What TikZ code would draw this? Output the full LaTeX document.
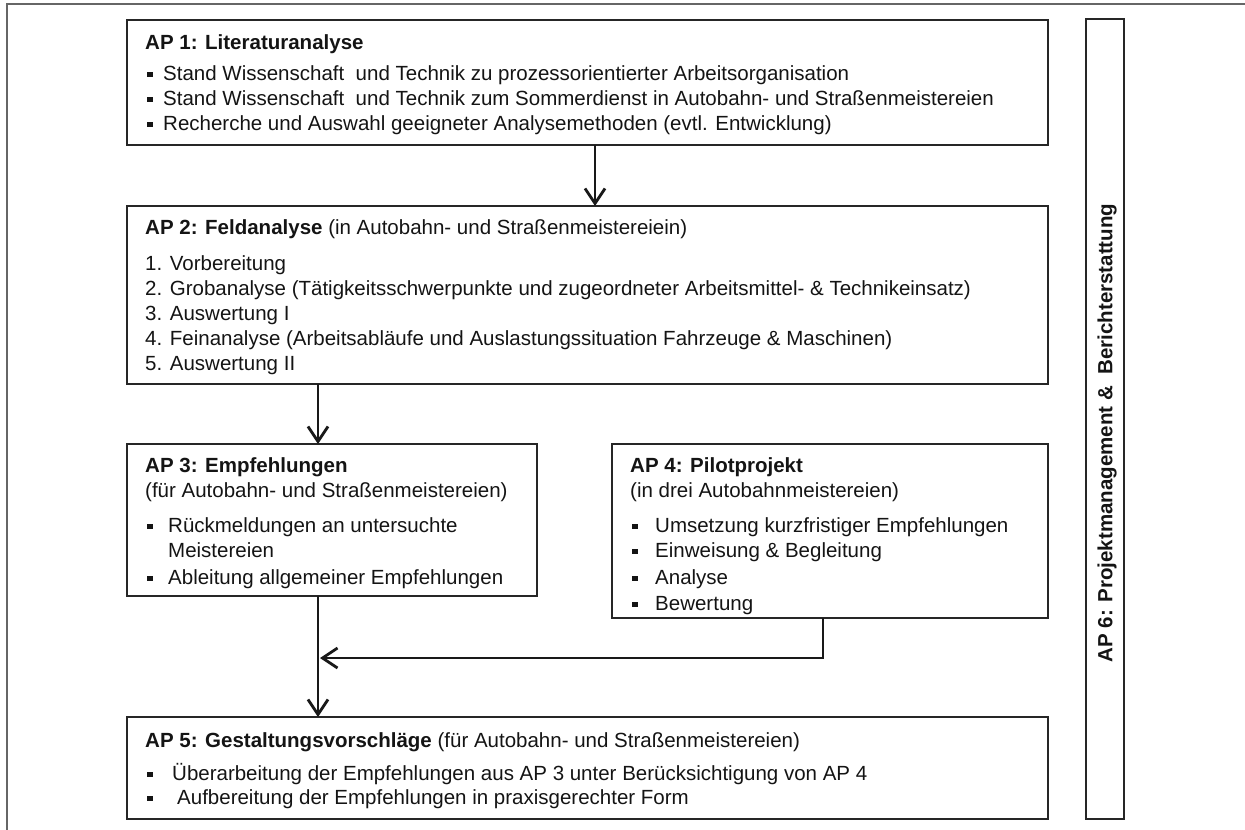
\documentclass[tikz,border=0pt]{standalone}
\usepackage{fontspec}
\setmainfont{Liberation Sans}
\usetikzlibrary{arrows.meta,calc}
\newcommand{\bsq}[1]{\makebox[#1][l]{\rule[2.8pt]{5.5pt}{5.5pt}}}
\begin{document}
\begin{tikzpicture}[x=1pt,y=-1pt,
  box/.style={draw=black!85, line width=1.8pt, anchor=north west, inner sep=0pt, outer sep=0pt},
  txt/.style={anchor=base west, inner sep=0pt, text=black!92, font=\fontsize{20.5}{24.6}\selectfont},
  arr/.style={line width=2.4pt, draw=black!90, -{Straight Barb[length=15pt,width=20pt,line width=2.8pt]}},
  frame/.style={draw=black!60, line width=2.5pt}]
\useasboundingbox (0,0) rectangle (1245,830);
% outer frame
\draw[frame] (7,830) -- (7,4) -- (1245,4);
% boxes
\node[box, minimum width=921pt, minimum height=125pt] (ap1) at (127,20) {};
\node[box, minimum width=921pt, minimum height=178pt] (ap2) at (127,206) {};
\node[box, minimum width=410pt, minimum height=152pt] (ap3) at (127,444) {};
\node[box, minimum width=436pt, minimum height=174pt] (ap4) at (612,444) {};
\node[box, minimum width=921pt, minimum height=102pt] (ap5) at (127,717) {};
\node[box, minimum width=38pt, minimum height=800pt] (ap6) at (1086,19) {};
% AP1 text
\node[txt] (t1) at (145,49) {\textbf{AP 1: Literaturanalyse}};
\node[txt] (t1a) at (147,80) {\bsq{16pt}Stand Wissenschaft\ \ und Technik zu prozessorientierter Arbeitsorganisation};
\node[txt] (t1b) at (147,105) {\bsq{16pt}Stand Wissenschaft\ \ und Technik zum Sommerdienst in Autobahn- und Straßenmeistereien};
\node[txt] (t1c) at (147,130) {\bsq{16pt}Recherche und Auswahl geeigneter Analysemethoden (evtl. Entwicklung)};
% AP2 text
\node[txt] (t2) at (145,234) {\textbf{AP 2: Feldanalyse} (in Autobahn- und Straßenmeistereiein)};
\node[txt] (t2a) at (145,270) {1. Vorbereitung};
\node[txt] (t2b) at (145,295) {2. Grobanalyse (Tätigkeitsschwerpunkte und zugeordneter Arbeitsmittel- \& Technikeinsatz)};
\node[txt] (t2c) at (145,320) {3. Auswertung I};
\node[txt] (t2d) at (145,345) {4. Feinanalyse (Arbeitsabläufe und Auslastungssituation Fahrzeuge \& Maschinen)};
\node[txt] (t2e) at (145,370) {5. Auswertung II};
% AP3 text
\node[txt] (t3) at (145,472) {\textbf{AP 3: Empfehlungen}};
\node[txt] (t3s) at (145,497) {(für Autobahn- und Straßenmeistereien)};
\node[txt] (t3a) at (147,532) {\bsq{21pt}Rückmeldungen an untersuchte};
\node[txt] (t3b) at (168,557) {Meistereien};
\node[txt] (t3c) at (147,584) {\bsq{21pt}Ableitung allgemeiner Empfehlungen};
% AP4 text
\node[txt] (t4) at (630,472) {\textbf{AP 4: Pilotprojekt}};
\node[txt] (t4s) at (630,497) {(in drei Autobahnmeistereien)};
\node[txt] (t4a) at (632,532) {\bsq{23pt}Umsetzung kurzfristiger Empfehlungen};
\node[txt] (t4b) at (632,557) {\bsq{23pt}Einweisung \& Begleitung};
\node[txt] (t4c) at (632,584) {\bsq{23pt}Analyse};
\node[txt] (t4d) at (632,610) {\bsq{23pt}Bewertung};
% AP5 text
\node[txt] (t5) at (145,747) {\textbf{AP 5: Gestaltungsvorschläge} (für Autobahn- und Straßenmeistereien)};
\node[txt] (t5a) at (147,780) {\bsq{25pt}Überarbeitung der Empfehlungen aus AP 3 unter Berücksichtigung von AP 4};
\node[txt] (t5b) at (147,804) {\bsq{30pt}Aufbereitung der Empfehlungen in praxisgerechter Form};
% AP6 text
\node[txt, anchor=center, rotate=90] (t6) at (1107,433) {\textbf{AP 6: Projektmanagement \&\ \ Berichterstattung}};
% connectors
\coordinate (c1) at (595,0);
\coordinate (c2) at (318,0);
\coordinate (c3) at (823,0);
\coordinate (m) at (320,658);
\draw[arr] (ap1.south -| c1) -- (ap2.north -| c1);
\draw[arr] (ap2.south -| c2) -- (ap3.north -| c2);
\draw[arr] (ap3.south -| c2) -- (ap5.north -| c2);
\draw[arr] (ap4.south -| c3) |- (m);
\end{tikzpicture}
\end{document}
